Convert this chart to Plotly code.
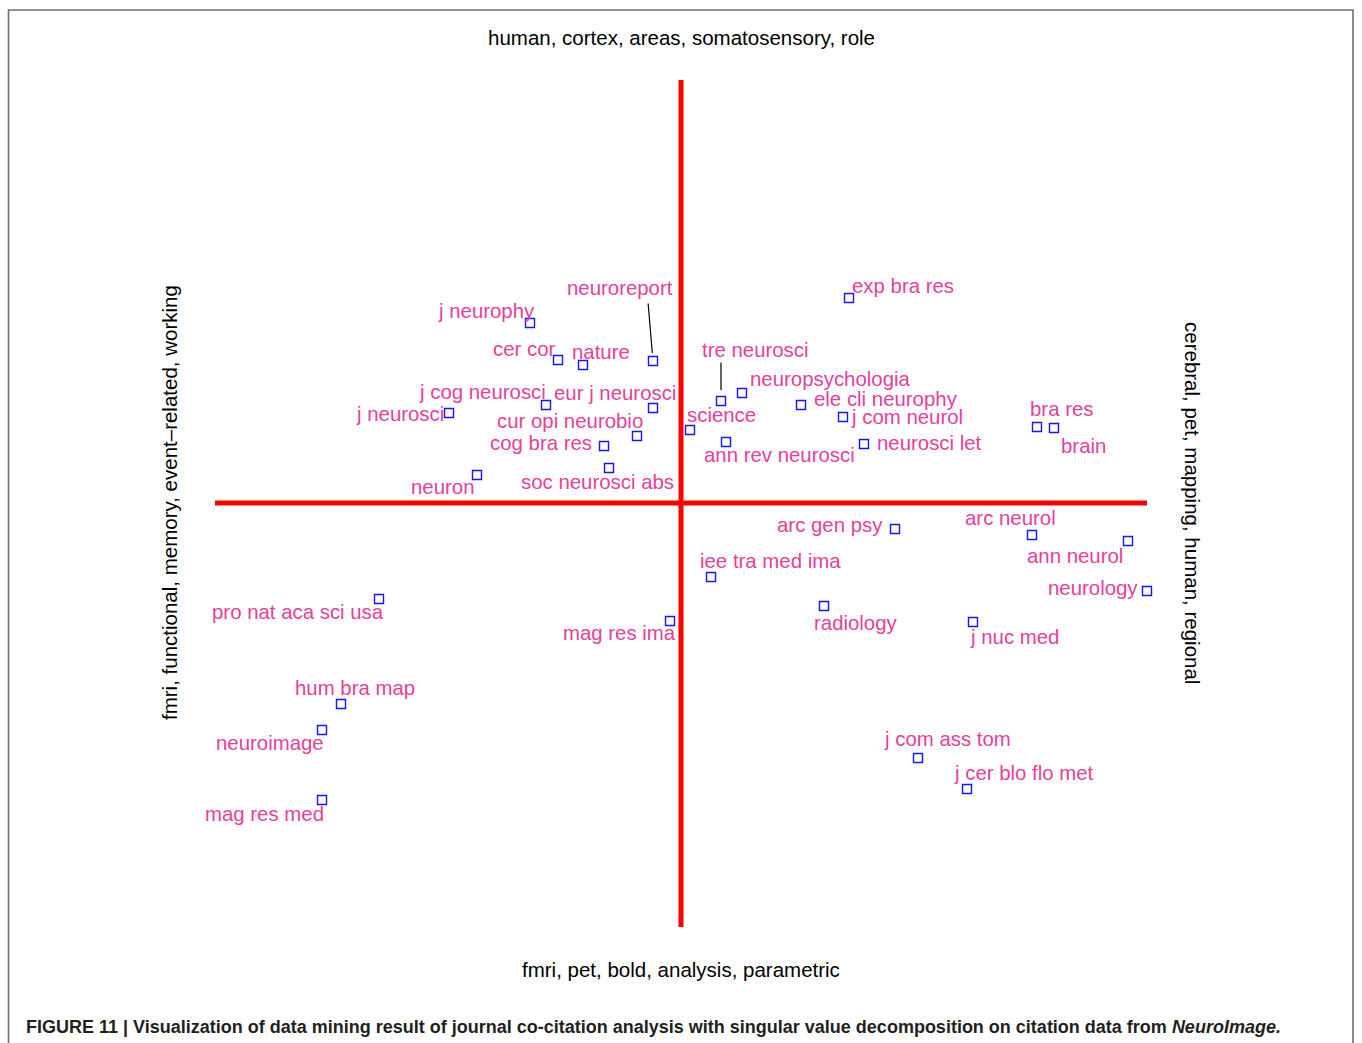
import plotly.graph_objects as go

# ---- data (SVD coordinates) ----
journals = [
    "j neurophy", "cer cor", "nature", "neuroreport", "j cog neurosci",
    "eur j neurosci", "j neurosci", "cur opi neurobio", "cog bra res",
    "soc neurosci abs", "neuron", "science", "exp bra res", "tre neurosci",
    "neuropsychologia", "ele cli neurophy", "j com neurol", "ann rev neurosci",
    "neurosci let", "bra res", "brain", "arc neurol", "ann neurol",
    "neurology", "arc gen psy", "iee tra med ima", "radiology", "mag res ima",
    "pro nat aca sci usa", "hum bra map", "neuroimage", "mag res med",
    "j nuc med", "j com ass tom", "j cer blo flo met",
]
x_vals = [
    -1.51, -1.23, -0.98, -0.28, -1.35,
    -0.28, -2.32, -0.44, -0.77,
    -0.72, -2.04, 0.09, 1.68, 0.40,
    0.61, 1.20, 1.62, 0.45,
    1.83, 3.56, 3.73, 3.51, 4.47,
    4.66, 2.14, 0.30, 1.43, -0.11,
    -3.02, -3.40, -3.59, -3.59,
    2.92, 2.37, 2.86,
]
y_vals = [
    1.80, 1.43, 1.38, 1.42, 0.98,
    0.95, 0.90, 0.67, 0.57,
    0.35, 0.28, 0.73, 2.05, 1.02,
    1.10, 0.98, 0.86, 0.61,
    0.59, 0.76, 0.75, -0.32, -0.38,
    -0.88, -0.26, -0.74, -1.03, -1.18,
    -0.96, -2.01, -2.27, -2.97,
    -1.19, -2.55, -2.86,
]

top_label = "human, cortex, areas, somatosensory, role"
bottom_label = "fmri, pet, bold, analysis, parametric"
left_label = "fmri, functional, memory, event\u2013related, working"
right_label = "cerebral, pet, mapping, human, regional"
caption = ("<b>FIGURE 11 | Visualization of data mining result of journal co-citation analysis "
           "with singular value decomposition on citation data from <i>NeuroImage.</i></b>")

# ---- layout / style (label offsets in screen pixels: dx right, dy down) ----
label_offsets = {
    "j neurophy": (-44, -12), "cer cor": (-34, -11), "nature": (18, -13),
    "neuroreport": (-33, -73), "j cog neurosci": (-64, -13),
    "eur j neurosci": (-38, -15), "j neurosci": (-49, 1),
    "cur opi neurobio": (-67, -15), "cog bra res": (-63, -3),
    "soc neurosci abs": (-12, 14), "neuron": (-34, 12), "science": (31, -15),
    "exp bra res": (54, -12), "tre neurosci": (34, -51),
    "neuropsychologia": (88, -14), "ele cli neurophy": (85, -6),
    "j com neurol": (64, 0), "ann rev neurosci": (53, 13),
    "neurosci let": (65, -1), "bra res": (24, -18), "brain": (29, 18),
    "arc neurol": (-22, -17), "ann neurol": (-53, 15), "neurology": (-54, -3),
    "arc gen psy": (-65, -4), "iee tra med ima": (59, -16),
    "radiology": (32, 17), "mag res ima": (-51, 12),
    "pro nat aca sci usa": (-81, 13), "hum bra map": (14, -16),
    "neuroimage": (-52, 13), "mag res med": (-58, 14),
    "j nuc med": (41, 15), "j com ass tom": (29, -19),
    "j cer blo flo met": (57, -16),
}
leaders = {"neuroreport": (-5, -59, 8), "tre neurosci": (0, -40, 11)}

W, H = 1362, 1043
ML, MR, MT, MB = 215, 215, 80, 116
PW, PH = W - ML - MR, H - MT - MB
XR = (-4.66, 4.66)
YR = (-4.24, 4.23)

def px(x):
    return (x - ML) / PW

def py(y):
    return (H - MB - y) / PH

LABEL_COLOR = "#E8409A"
FONT = "Liberation Sans, Arial, Helvetica, sans-serif"

fig = go.Figure()
fig.add_trace(go.Scatter(
    x=x_vals, y=y_vals, mode="markers",
    marker=dict(symbol="square-open", size=9, color="#1414ff",
                line=dict(width=1.4, color="#1414ff")),
    cliponaxis=False, hoverinfo="skip", showlegend=False,
))

annotations = []
for name, xv, yv in zip(journals, x_vals, y_vals):
    dx, dy = label_offsets[name]
    annotations.append(dict(
        x=xv, y=yv, xref="x", yref="y", text=name, showarrow=False,
        xshift=dx, yshift=-dy, xanchor="center", yanchor="middle",
        font=dict(family=FONT, size=20.4, color=LABEL_COLOR),
    ))
    if name in leaders:
        ax, ay, so = leaders[name]
        annotations.append(dict(
            x=xv, y=yv, xref="x", yref="y", text="", showarrow=True,
            ax=ax, ay=ay, arrowhead=0, arrowwidth=1.2, arrowcolor="black",
            standoff=so,
        ))

axis_font = dict(family=FONT, size=20.5, color="black")
annotations += [
    dict(x=px(681), y=py(37), xref="paper", yref="paper", text=top_label,
         showarrow=False, font=axis_font, xanchor="center", yanchor="middle"),
    dict(x=px(681), y=py(970), xref="paper", yref="paper", text=bottom_label,
         showarrow=False, font=axis_font, xanchor="center", yanchor="middle"),
    dict(x=px(170), y=py(503), xref="paper", yref="paper", text=left_label,
         showarrow=False, font=axis_font, textangle=-90,
         xanchor="center", yanchor="middle"),
    dict(x=px(1192), y=py(503), xref="paper", yref="paper", text=right_label,
         showarrow=False, font=axis_font, textangle=90,
         xanchor="center", yanchor="middle"),
    dict(x=px(24), y=py(1027), xref="paper", yref="paper", text=caption,
         showarrow=False, xanchor="left", yanchor="middle",
         font=dict(family="Liberation Sans, Arial, sans-serif",
                   size=18, color="#231f20")),
]

shapes = [
    dict(type="line", xref="x", yref="y", x0=XR[0], x1=XR[1], y0=0, y1=0,
         line=dict(color="#ff0000", width=5), layer="below"),
    dict(type="line", xref="x", yref="y", x0=0, x1=0, y0=YR[0], y1=YR[1],
         line=dict(color="#ff0000", width=5), layer="below"),
    dict(type="rect", xref="paper", yref="paper",
         x0=px(8.5), x1=px(1353), y0=py(1060), y1=py(10),
         line=dict(color="#6e6e6e", width=1.6), fillcolor="rgba(0,0,0,0)"),
]

fig.update_layout(
    width=W, height=H,
    margin=dict(l=ML, r=MR, t=MT, b=MB, pad=0),
    paper_bgcolor="white", plot_bgcolor="white",
    xaxis=dict(range=list(XR), visible=False, fixedrange=True),
    yaxis=dict(range=list(YR), visible=False, fixedrange=True),
    annotations=annotations, shapes=shapes,
)

fig.write_html("out.html", config={"displayModeBar": False},
               post_script="document.body.style.margin='0';document.body.style.overflow='hidden';")
